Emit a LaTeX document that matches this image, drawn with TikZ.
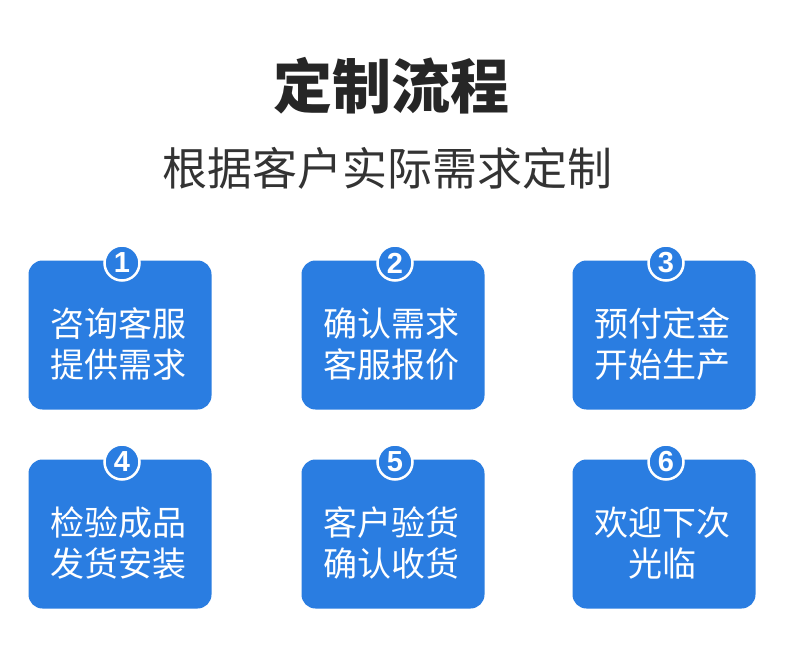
\documentclass[tikz,border=0pt]{standalone}
\usepackage{fontspec}
\setmainfont{Liberation Sans}
\newfontfamily\cjk{Noto Sans CJK SC}
\begin{document}
\begin{tikzpicture}[x=1pt,y=-1pt,
  box/.style={fill=boxblue,rounded corners=14pt,minimum width=183pt,minimum height=149pt,inner sep=0pt,text=white},
  lbl/.style={text=white,font=\cjk\fontsize{34}{41}\selectfont,align=center,inner sep=0pt},
  num/.style={circle,fill=boxblue,draw=white,line width=2.5pt,minimum size=35pt,inner sep=0pt,text=white,font=\bfseries\fontsize{29}{29}\selectfont}]
\definecolor{boxblue}{HTML}{2A7DE1}
\useasboundingbox (0,0) rectangle (790,650);
\fill[white] (0,0) rectangle (790,650);
\node[font=\cjk\bfseries\fontsize{59}{59}\selectfont,text=black!85] (title) at (391,86) {定制流程};
\node[font=\cjk\fontsize{45}{45}\selectfont,text=black!80] (sub) at (387,168) {根据客户实际需求定制};
\foreach \i/\x/\y/\t in {1/120/335/{咨询客服\\提供需求},2/393/335/{确认需求\\客服报价},3/664/335/{预付定金\\开始生产},4/120/534/{检验成品\\发货安装},5/393/534/{客户验货\\确认收货},6/664/534/{欢迎下次\\光临}}{
  \node[box] (b\i) at (\x,\y) {};
  \node[lbl] (t\i) at (\x-2,\y+9) {\t};
  \node[num] (n\i) at (\x+2,\y-72) {\i};
}
\end{tikzpicture}
\end{document}
